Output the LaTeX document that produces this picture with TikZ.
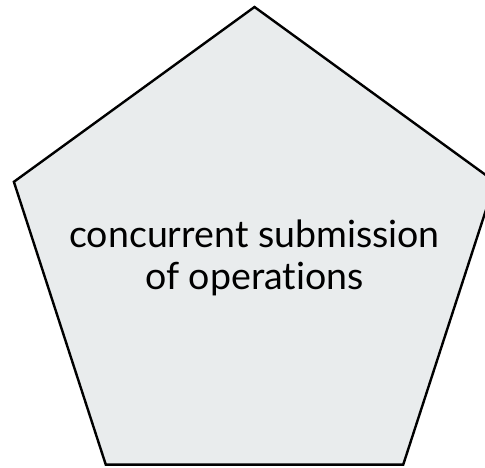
\documentclass[tikz,border=0pt]{standalone}
\usepackage{fontspec}
\setmainfont{Lato}[Ligatures={NoCommon}]
\usetikzlibrary{shapes.geometric}
\definecolor{panelfill}{HTML}{E9ECED}
\tikzset{
  pentabox/.style={regular polygon, regular polygon sides=5, minimum size=506pt,
    inner sep=0pt, outer sep=0pt, draw=black, line width=2.4pt, fill=panelfill},
  caption/.style={align=center, inner sep=0pt, font=\fontsize{37.5}{42}\selectfont}
}
\begin{document}
\begin{tikzpicture}[x=1pt,y=1pt]
  \useasboundingbox (0,0) rectangle (485,468);
  \clip (0,0) rectangle (485,468);
  \node[pentabox] (p) at (254.5,208) {};
  \node[caption] (t) at ([yshift=2.5pt]p.center) {concurrent submission\\of operations};
\end{tikzpicture}
\end{document}
